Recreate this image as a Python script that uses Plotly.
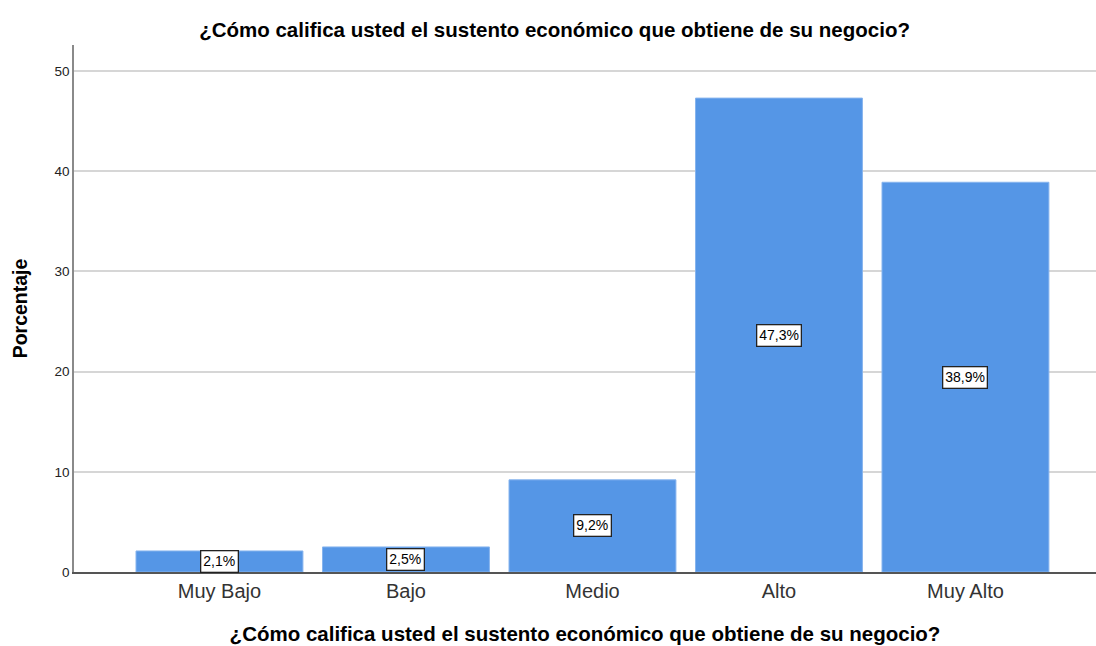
import plotly.graph_objects as go

categories = ["Muy Bajo", "Bajo", "Medio", "Alto", "Muy Alto"]
values = [2.1, 2.5, 9.2, 47.3, 38.9]
labels = ["2,1%", "2,5%", "9,2%", "47,3%", "38,9%"]
y_ticks = [0, 10, 20, 30, 40, 50]

title_text = "¿Cómo califica usted el sustento económico que obtiene de su negocio?"
FONT = "Liberation Sans, Arial, sans-serif"

fig = go.Figure()
fig.add_trace(go.Bar(
    x=list(range(len(categories))),
    y=values,
    marker=dict(color="#5596E6", line=dict(color="#86b4ee", width=1)),
    width=0.895,
    hoverinfo="skip",
))

for i, (v, lab) in enumerate(zip(values, labels)):
    fig.add_annotation(
        x=i, y=v / 2, text=lab, showarrow=False,
        font=dict(family=FONT, size=14, color="#000000"),
        bgcolor="#ffffff", bordercolor="#222222", borderwidth=1.3, borderpad=2,
    )

fig.update_layout(
    width=1096, height=646,
    margin=dict(l=74, r=0, t=45, b=74),
    paper_bgcolor="#ffffff", plot_bgcolor="#ffffff",
    showlegend=False,
    title=dict(text="<b>" + title_text + "</b>", x=0.506, xanchor="center",
               y=1 - 30 / 646, yanchor="middle",
               font=dict(family=FONT, size=20.5, color="#000000")),
    font=dict(family=FONT, color="#222222"),
)

fig.update_xaxes(
    tickmode="array", tickvals=list(range(len(categories))), ticktext=categories,
    range=[-0.78, 4.70],
    showgrid=False, zeroline=False,
    showline=True, linecolor="#555555", linewidth=1.5,
    ticks="", tickfont=dict(family=FONT, size=20, color="#333333"),
    title=dict(text="<b>" + title_text + "</b>", standoff=26,
               font=dict(family=FONT, size=20.5, color="#000000")),
)

fig.update_yaxes(
    range=[0, 52.6], tickvals=y_ticks,
    showgrid=True, gridcolor="#d6d6d6", gridwidth=2,
    zeroline=False,
    showline=True, linecolor="#8a8a8a", linewidth=1.5,
    ticks="", ticklen=0, tickfont=dict(family=FONT, size=13.5, color="#222222"),
    title=dict(text="<b>Porcentaje</b>", standoff=22,
               font=dict(family=FONT, size=19.5, color="#000000")),
)

fig.write_html("out.html", config={"displayModeBar": False},
               post_script="document.body.style.margin='0';document.body.style.padding='0';")
